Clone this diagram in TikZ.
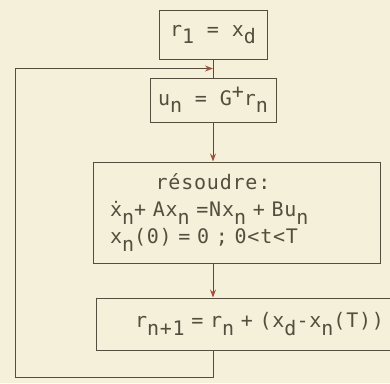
\documentclass[tikz,border=0pt]{standalone}
\usepackage{fontspec}
\setmonofont[LetterSpace=4]{DejaVu Sans Mono}
\usetikzlibrary{arrows.meta, calc}
\definecolor{paper}{RGB}{245,240,218}
\definecolor{ink}{RGB}{85,78,62}
\definecolor{tipred}{RGB}{165,80,60}
\newcommand{\lo}[1]{\raisebox{-0.65ex}{#1}}
\newcommand{\hi}[1]{\raisebox{0.6ex}{#1}}

\begin{document}
\begin{tikzpicture}[
    x=1pt, y=-1pt,
    box/.style={draw=ink, line width=1pt, fill=paper, inner sep=0pt, text=ink,
                font=\ttfamily\fontsize{20}{27}\selectfont},
    flow/.style={draw=ink, line width=1pt, -{Stealth[length=8pt, width=6pt, color=tipred]}},
    link/.style={draw=ink, line width=1pt},
]
\fill[paper] (0,0) rectangle (390,383);
\useasboundingbox (0,0) rectangle (390,383);

% Boxes, top to bottom
\node[box, minimum width=108pt, minimum height=49pt] (init) at (213,34.5) {r\lo{1} = x\lo{d}};
\node[box, minimum width=126pt, minimum height=44pt] (ctrl) at (213,100) {u\lo{n} = G\hi{+}r\lo{n}};
\node[box, text width=287pt, minimum height=101pt, align=left] (solve) at (236.5,212.5)
    {\hspace*{17pt}\makebox[206pt]{résoudre:}\\
     \hspace*{17pt}\.{x}\lo{n}+ Ax\lo{n} =Nx\lo{n} + Bu\lo{n}\\
     \hspace*{17pt}x\lo{n}(0) = 0 ; 0<t<T};
\node[box, text width=300pt, minimum height=52pt, align=left] (update) at (246,324)
    {\hspace*{39pt}r\lo{n+1} = r\lo{n} + (x\lo{d}-x\lo{n}(T))};

% Junction and loop corner
\coordinate (join) at ($(init.south)!0.5!(ctrl.north)$);
\coordinate (corner) at (15,377);

% Main path
\draw[link] (init) -- (ctrl);
\draw[flow] (ctrl.south) -- (ctrl.south |- solve.north);
\draw[flow] (solve.south -| ctrl.south) -- (update.north -| ctrl.south);

% Feedback loop back to the top
\draw[flow] (update.south -| ctrl.south) |- (corner) |- (join);

\end{tikzpicture}
\end{document}
